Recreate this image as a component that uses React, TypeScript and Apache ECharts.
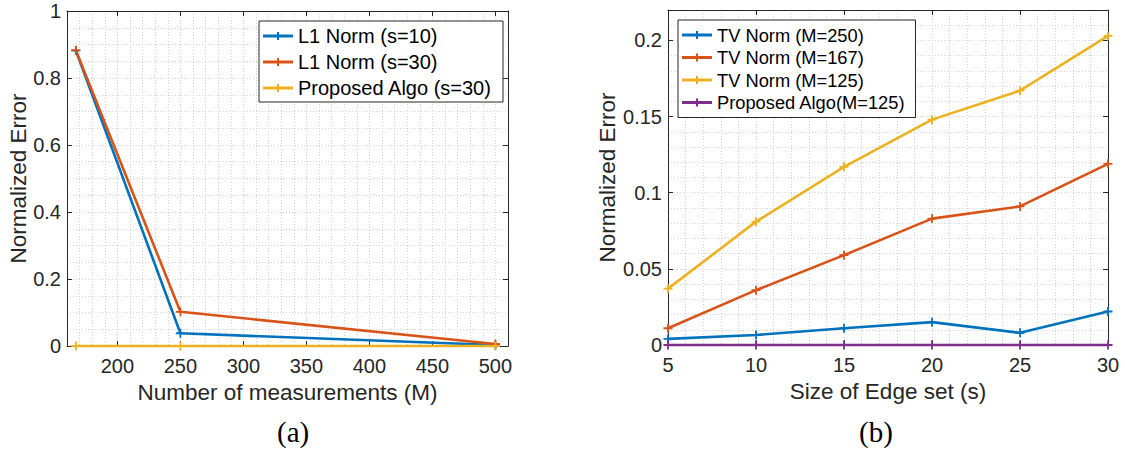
import React, { useEffect, useRef } from "react";
import * as echarts from "echarts";

// ---- Data (a) ----
const leftX = [167, 250, 500];
const l1S10 = [0.882, 0.038, 0.003];
const l1S30 = [0.883, 0.102, 0.006];
const propS30 = [0, 0, 0];
const leftXTicks = [200, 250, 300, 350, 400, 450, 500];
const leftYTicks = [0, 0.2, 0.4, 0.6, 0.8, 1];

// ---- Data (b) ----
const rightX = [5, 10, 15, 20, 25, 30];
const tvM250 = [0.004, 0.0066, 0.011, 0.015, 0.008, 0.022];
const tvM167 = [0.011, 0.036, 0.059, 0.083, 0.091, 0.119];
const tvM125 = [0.037, 0.081, 0.117, 0.148, 0.167, 0.203];
const propM125 = [0, 0, 0, 0, 0, 0];
const rightXTicks = [5, 10, 15, 20, 25, 30];
const rightYTicks = [0, 0.05, 0.1, 0.15, 0.2];

const BLUE = "#0072BD";
const ORANGE = "#D95319";
const YELLOW = "#EDB120";
const PURPLE = "#7E2F8E";
const AX = "#262626";
const SANS = "Liberation Sans, Arial, Helvetica, sans-serif";
const SERIF = "Liberation Serif, Times New Roman, serif";

const PLUS = "path://M4,0 H6 V4 H10 V6 H6 V10 H4 V6 H0 V4 H4 Z";
const LEG_ICON = "path://M0,3.5 H30 V6.5 H0 Z M14,1 H16 V9 H14 Z";

const zip = (xs: number[], ys: number[]) => xs.map((x, i) => [x, ys[i]]);

function mkSeries(name: string, color: string, data: number[][], xi: number, yi: number) {
  return {
    type: "line",
    name,
    xAxisIndex: xi,
    yAxisIndex: yi,
    data,
    clip: false,
    symbol: PLUS,
    symbolSize: 9,
    showSymbol: true,
    color,
    lineStyle: { color, width: 2.6 },
    itemStyle: { color, borderWidth: 0 },
  };
}

const nameStyle = { color: AX, fontSize: 22.5, fontFamily: SANS };

// main axis: carries the dotted grid (every minor step) and the name
function gridAxis(gridIndex: number, position: string, min: number, max: number, interval: number, extra: any = {}) {
  return {
    type: "value",
    gridIndex,
    position,
    min,
    max,
    interval,
    axisLine: { show: false, onZero: false },
    axisTick: { show: false },
    axisLabel: { show: false },
    splitLine: { show: true, lineStyle: { color: "#d2d2d2", type: [1, 2], width: 1 } },
    z: 1,
    ...extra,
  };
}

// overlay axis: frame line, inward ticks and (optionally) labels at the given values
function tickAxis(
  gridIndex: number,
  position: string,
  min: number,
  max: number,
  interval: number,
  ticks: number[],
  showLabels: boolean
) {
  return {
    type: "value",
    gridIndex,
    position,
    min,
    max,
    interval,
    axisLine: { show: true, onZero: false, lineStyle: { color: AX, width: 1 } },
    axisTick: { show: true, inside: true, length: 5, customValues: ticks, lineStyle: { color: AX } },
    axisLabel: showLabels
      ? {
          show: true,
          customValues: ticks,
          color: AX,
          fontSize: 20,
          fontFamily: SANS,
          margin: position === "bottom" ? 10 : 6,
        }
      : { show: false },
    splitLine: { show: false },
    z: 3,
  };
}

export default function App() {
  const ref = useRef<HTMLDivElement>(null);
  useEffect(() => {
    if (!ref.current) return;
    const chart = echarts.init(ref.current, undefined, { renderer: "svg" });
    const option: any = {
      animation: false,
      backgroundColor: "#ffffff",
      grid: [
        { left: 67, top: 11, width: 441, height: 335, containLabel: false },
        { left: 668, top: 10, width: 440, height: 335, containLabel: false },
      ],
      xAxis: [
        gridAxis(0, "bottom", 160, 510, 10, {
          name: "Number of measurements (M)",
          nameLocation: "middle",
          nameGap: 35,
          nameTextStyle: nameStyle,
        }),
        tickAxis(0, "bottom", 160, 510, 10, leftXTicks, true),
        tickAxis(0, "top", 160, 510, 10, leftXTicks, false),
        gridAxis(1, "bottom", 5, 30, 1, {
          name: "Size of Edge set (s)",
          nameLocation: "middle",
          nameGap: 35,
          nameTextStyle: nameStyle,
        }),
        tickAxis(1, "bottom", 5, 30, 1, rightXTicks, true),
        tickAxis(1, "top", 5, 30, 1, rightXTicks, false),
      ],
      yAxis: [
        gridAxis(0, "left", 0, 1, 0.05, {
          name: "Normalized Error",
          nameLocation: "middle",
          nameGap: 37,
          nameTextStyle: nameStyle,
        }),
        tickAxis(0, "left", 0, 1, 0.05, leftYTicks, true),
        tickAxis(0, "right", 0, 1, 0.05, leftYTicks, false),
        gridAxis(1, "left", 0, 0.22, 0.01, {
          name: "Normalized Error",
          nameLocation: "middle",
          nameGap: 49,
          nameTextStyle: nameStyle,
        }),
        tickAxis(1, "left", 0, 0.22, 0.01, rightYTicks, true),
        tickAxis(1, "right", 0, 0.22, 0.01, rightYTicks, false),
      ],
      legend: [
        {
          data: ["L1 Norm (s=10)", "L1 Norm (s=30)", "Proposed Algo (s=30)"],
          orient: "vertical",
          left: 259,
          top: 21,
          icon: LEG_ICON,
          itemWidth: 30,
          itemHeight: 8,
          itemGap: 6,
          padding: [5, 11, 4, 4],
          borderColor: AX,
          borderWidth: 1,
          borderRadius: 0,
          backgroundColor: "#ffffff",
          itemStyle: { borderWidth: 0 },
          textStyle: { color: "#000", fontSize: 20, fontFamily: SANS, lineHeight: 20 },
          selectedMode: false,
          z: 10,
        },
        {
          data: ["TV Norm (M=250)", "TV Norm (M=167)", "TV Norm (M=125)", "Proposed Algo(M=125)"],
          orient: "vertical",
          left: 678,
          top: 20,
          icon: LEG_ICON,
          itemWidth: 30,
          itemHeight: 8,
          itemGap: 4.5,
          padding: [6, 10, 6, 4],
          borderColor: AX,
          borderWidth: 1,
          borderRadius: 0,
          backgroundColor: "#ffffff",
          itemStyle: { borderWidth: 0 },
          textStyle: { color: "#000", fontSize: 18.3, fontFamily: SANS, lineHeight: 18 },
          selectedMode: false,
          z: 10,
        },
      ],
      series: [
        mkSeries("L1 Norm (s=10)", BLUE, zip(leftX, l1S10), 0, 0),
        mkSeries("L1 Norm (s=30)", ORANGE, zip(leftX, l1S30), 0, 0),
        mkSeries("Proposed Algo (s=30)", YELLOW, zip(leftX, propS30), 0, 0),
        mkSeries("TV Norm (M=250)", BLUE, zip(rightX, tvM250), 3, 3),
        mkSeries("TV Norm (M=167)", ORANGE, zip(rightX, tvM167), 3, 3),
        mkSeries("TV Norm (M=125)", YELLOW, zip(rightX, tvM125), 3, 3),
        mkSeries("Proposed Algo(M=125)", PURPLE, zip(rightX, propM125), 3, 3),
      ],
      graphic: [
        {
          type: "text",
          left: 295 - 18,
          top: 417,
          style: { text: "(a)", fontSize: 29, fontFamily: SERIF, fill: "#000" },
        },
        {
          type: "text",
          left: 878 - 19,
          top: 417,
          style: { text: "(b)", fontSize: 29, fontFamily: SERIF, fill: "#000" },
        },
      ],
    };
    chart.setOption(option);
    return () => chart.dispose();
  }, []);
  return (
    <div
      ref={ref}
      style={{ position: "fixed", left: 0, top: 0, width: 1125, height: 454, background: "#fff" }}
    />
  );
}
